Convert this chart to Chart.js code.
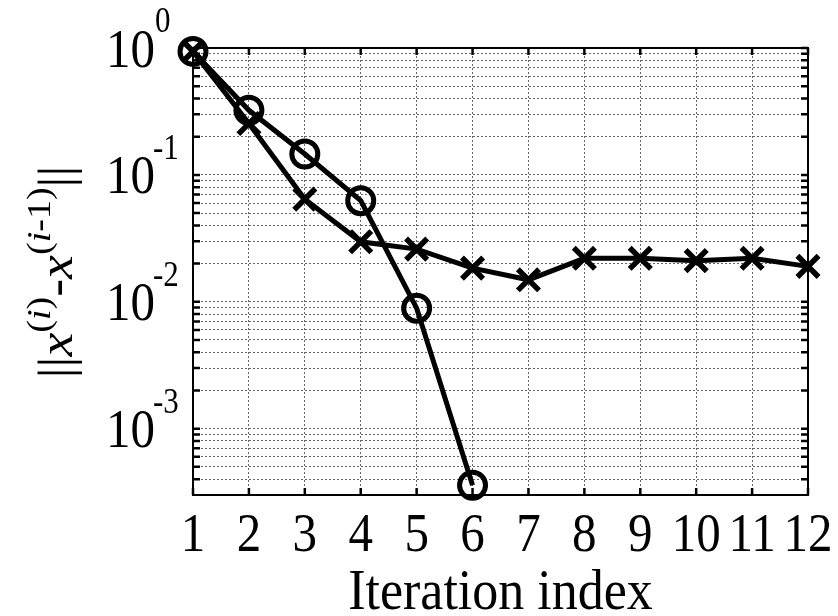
<!DOCTYPE html>
<html>
<head>
<meta charset="utf-8">
<script src="https://cdn.jsdelivr.net/npm/chart.js@4.4.0/dist/chart.umd.min.js"></script>
<style>
html, body { margin: 0; padding: 0; background: #fff; }
#wrap { width: 838px; height: 616px; }
</style>
</head>
<body>
<div id="wrap"><canvas id="convChart" width="838" height="616"></canvas></div>
<script>
// iteration index (x) and the two error curves
const iterations = [1, 2, 3, 4, 5, 6, 7, 8, 9, 10, 11, 12];
const errCircle = [0.94, 0.323, 0.146, 0.0626, 0.0089, 0.000358];
const errCross = [0.94, 0.254, 0.0644, 0.0297, 0.026, 0.0184, 0.0149, 0.022, 0.022, 0.0211, 0.022, 0.019];

// tick labels
const xTickLabels = ['1', '2', '3', '4', '5', '6', '7', '8', '9', '10', '11', '12'];
const yExponents = [0, -1, -2, -3];
const yMin = 3.37e-4;
const yMax = 1;

const serif = '"Liberation Serif", "Times New Roman", serif';

function toPoints(values) {
	return values.map((v, i) => ({ x: iterations[i], y: v }));
}

function stretchedText(ctx, txt, x, y, font, align, sy) {
	ctx.save();
	ctx.translate(x, y);
	ctx.scale(1, sy);
	ctx.font = font;
	ctx.textAlign = align;
	ctx.textBaseline = 'alphabetic';
	ctx.fillStyle = '#000';
	ctx.fillText(txt, 0, 0);
	ctx.restore();
}

// frame + small inward tick marks like the matlab axes
const framePlugin = {
	id: 'frame',
	beforeDatasetsDraw(chart) {
		const ctx = chart.ctx;
		const a = chart.chartArea;
		const xs = chart.scales.x;
		const ys = chart.scales.y;
		ctx.save();
		ctx.strokeStyle = '#000';
		ctx.lineWidth = 2.5;
		ys.ticks.forEach(t => {
			const y = ys.getPixelForValue(t.value);
			ctx.beginPath();
			ctx.moveTo(a.left, y);
			ctx.lineTo(a.left + 7, y);
			ctx.moveTo(a.right, y);
			ctx.lineTo(a.right - 7, y);
			ctx.stroke();
		});
		xs.ticks.forEach(t => {
			const x = xs.getPixelForValue(t.value);
			ctx.beginPath();
			ctx.moveTo(x, a.bottom);
			ctx.lineTo(x, a.bottom - 7);
			ctx.moveTo(x, a.top);
			ctx.lineTo(x, a.top + 7);
			ctx.stroke();
		});
		ctx.lineWidth = 2;
		ctx.strokeRect(a.left, a.top, a.right - a.left, a.bottom - a.top);
		ctx.restore();
	}
};

// all the text, drawn a bit taller than wide as in the exported figure
const textPlugin = {
	id: 'texts',
	afterDraw(chart) {
		const ctx = chart.ctx;
		const a = chart.chartArea;
		const xs = chart.scales.x;
		const ys = chart.scales.y;

		// y tick labels 10^n
		yExponents.forEach(e => {
			const y = ys.getPixelForValue(Math.pow(10, e));
			stretchedText(ctx, '10', 155, y + 18.5, '49px ' + serif, 'right', 1.14);
			stretchedText(ctx, String(e), e < 0 ? 153 : 155, y - 16, '31px ' + serif, 'left', 1.14);
		});

		// x tick labels
		xTickLabels.forEach((lbl, i) => {
			const x = xs.getPixelForValue(iterations[i]);
			stretchedText(ctx, lbl, x, 551, '49px ' + serif, 'center', 1.14);
		});

		// x title
		stretchedText(ctx, 'Iteration index', (a.left + a.right) / 2, 609, '52px ' + serif, 'center', 1.1);

		// y title ||x^(i)-x^(i-1)||
		const main = '48px ' + serif;
		const mainIt = 'italic 48px ' + serif;
		const sup = '34px ' + serif;
		const supIt = 'italic 34px ' + serif;
		const supRise = -22;
		const parts = [
			{ t: '||', f: main, dy: 0 },
			{ t: 'x', f: mainIt, dy: 0 },
			{ t: '(', f: sup, dy: supRise },
			{ t: 'i', f: supIt, dy: supRise },
			{ t: ')', f: sup, dy: supRise },
			{ t: '-', f: main, dy: 0 },
			{ t: 'x', f: mainIt, dy: 0 },
			{ t: '(', f: sup, dy: supRise },
			{ t: 'i', f: supIt, dy: supRise },
			{ t: '-1)', f: sup, dy: supRise },
			{ t: '||', f: main, dy: 0 }
		];
		ctx.save();
		let total = 0;
		parts.forEach(p => {
			ctx.font = p.f;
			p.w = ctx.measureText(p.t).width;
			total += p.w;
		});
		ctx.translate(72, 272);
		ctx.rotate(-Math.PI / 2);
		ctx.scale(1.12, 1);
		ctx.fillStyle = '#000';
		ctx.textBaseline = 'alphabetic';
		ctx.textAlign = 'left';
		let cx = -total / 2;
		parts.forEach(p => {
			ctx.font = p.f;
			ctx.fillText(p.t, cx, p.dy);
			cx += p.w;
		});
		ctx.restore();
	}
};

const gridColor = 'rgba(0, 0, 0, 0.6)';

const ctx = document.getElementById('convChart').getContext('2d');
const convChart = new Chart(ctx, {
	type: 'line',
	data: {
		datasets: [{
			label: 'cross',
			data: toPoints(errCross),
			borderColor: '#000',
			backgroundColor: '#000',
			borderWidth: 5,
			pointStyle: 'crossRot',
			pointRadius: 15,
			pointBorderWidth: 5.5,
			pointBorderColor: '#000',
			tension: 0,
			clip: false,
		}, {
			label: 'circle',
			data: toPoints(errCircle),
			borderColor: '#000',
			backgroundColor: 'rgba(0,0,0,0)',
			borderWidth: 5,
			pointStyle: 'circle',
			pointRadius: 13,
			pointBorderWidth: 5,
			pointBorderColor: '#000',
			pointBackgroundColor: 'rgba(0,0,0,0)',
			tension: 0,
			clip: false,
		}],
	},
	options: {
		responsive: false,
		animation: false,
		devicePixelRatio: 1,
		layout: {
			padding: { top: 48, right: 30, left: 0, bottom: 0 },
		},
		plugins: {
			legend: { display: false },
			tooltip: { enabled: false },
		},
		scales: {
			x: {
				type: 'linear',
				min: 1,
				max: 12,
				ticks: { display: false, stepSize: 1 },
				grid: { color: gridColor, lineWidth: 1, drawTicks: false },
				border: { display: false, dash: [2, 2] },
				afterFit: (scale) => { scale.height = 121; },
			},
			y: {
				type: 'logarithmic',
				min: yMin,
				max: yMax,
				ticks: { display: false },
				grid: { color: gridColor, lineWidth: 1, drawTicks: false },
				border: { display: false, dash: [2, 2] },
				afterFit: (scale) => { scale.width = 193; },
				// keep only 1..9 x 10^n lines
				afterBuildTicks: (scale) => {
					const ticks = [];
					for (let e = -4; e <= 0; e++) {
						for (let m = 1; m <= 9; m++) {
							const v = m * Math.pow(10, e);
							if (v >= yMin && v <= yMax * 1.0001) ticks.push({ value: v });
						}
					}
					scale.ticks = ticks;
				},
			},
		},
	},
	plugins: [framePlugin, textPlugin],
});
</script>
</body>
</html>
